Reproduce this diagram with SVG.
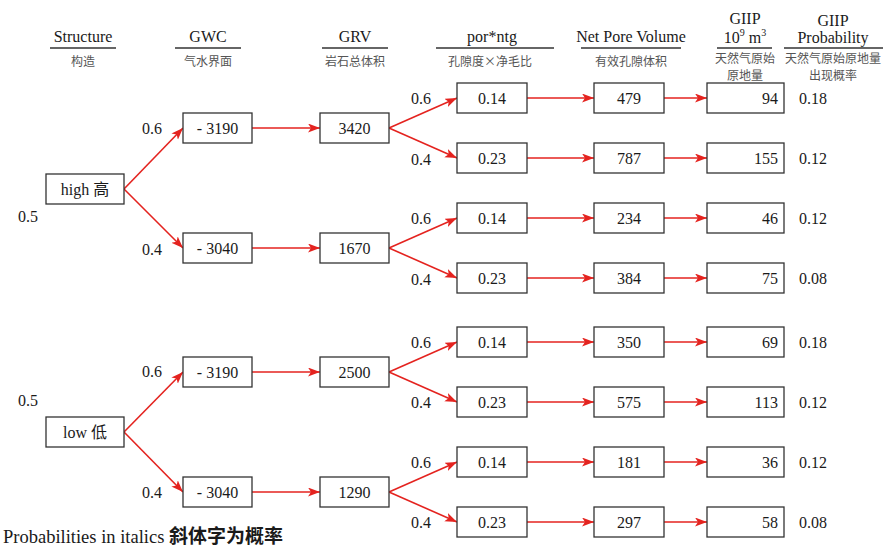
<svg xmlns="http://www.w3.org/2000/svg" width="884" height="548" viewBox="0 0 884 548">
<defs>
<marker id="ah" markerWidth="13" markerHeight="10" refX="12" refY="4.5" orient="auto" markerUnits="userSpaceOnUse">
<path d="M0,0 L12,4.5 L0,9 L3,4.5 z" fill="#e4231f"/>
</marker>
<style>
.bx{fill:#fff;stroke:#333;stroke-width:1.3}
.t{font-family:"Liberation Serif","Noto Sans CJK SC",serif;font-size:16px;fill:#1a1a1a}
.c{text-anchor:middle}
.r{text-anchor:end}
.h{font-family:"Liberation Serif","Noto Sans CJK SC",serif;font-size:16px;fill:#1a1a1a;text-anchor:middle}
.z{font-family:"Noto Sans CJK SC",sans-serif;font-size:12px;fill:#555;text-anchor:middle}
.ul{stroke:#333;stroke-width:1.3}
.ar{stroke:#e4231f;stroke-width:1.6;fill:none;marker-end:url(#ah)}
</style>
</defs>
<rect width="884" height="548" fill="#fff"/>

<g id="headers">
<text class="h" x="83" y="42">Structure</text>
<line class="ul" x1="50" y1="48" x2="116" y2="48"/>
<text class="z" x="83" y="66">构造</text>
<text class="h" x="208" y="42">GWC</text>
<line class="ul" x1="175" y1="48" x2="241" y2="48"/>
<text class="z" x="208" y="66">气水界面</text>
<text class="h" x="355" y="42">GRV</text>
<line class="ul" x1="322" y1="48" x2="388" y2="48"/>
<text class="z" x="355" y="66">岩石总体积</text>
<text class="h" x="492" y="42">por*ntg</text>
<line class="ul" x1="436" y1="48" x2="554" y2="48"/>
<text class="z" x="490" y="66">孔隙度×净毛比</text>
<text class="h" x="631" y="42">Net Pore Volume</text>
<line class="ul" x1="581" y1="48" x2="681" y2="48"/>
<text class="z" x="631" y="66">有效孔隙体积</text>
<text class="h" x="745" y="24">GIIP</text>
<text class="h" x="745" y="43">10<tspan font-size="10" dy="-7">9</tspan><tspan dy="7"> m</tspan><tspan font-size="10" dy="-7">3</tspan></text>
<line class="ul" x1="717" y1="48" x2="772" y2="48"/>
<text class="z" x="745" y="63">天然气原始</text>
<text class="z" x="745" y="80">原地量</text>
<text class="h" x="833" y="26">GIIP</text>
<text class="h" x="833" y="43">Probability</text>
<line class="ul" x1="784" y1="48" x2="883" y2="48"/>
<text class="z" x="833" y="63">天然气原始原地量</text>
<text class="z" x="833" y="80">出现概率</text>
</g>

<g id="connectors">
<line class="ar" x1="124" y1="189" x2="183" y2="128"/>
<line class="ar" x1="124" y1="189" x2="183" y2="248"/>
<line class="ar" x1="124" y1="432" x2="183" y2="372"/>
<line class="ar" x1="124" y1="432" x2="183" y2="492"/>
<line class="ar" x1="252" y1="128" x2="320" y2="128"/>
<line class="ar" x1="252" y1="248" x2="320" y2="248"/>
<line class="ar" x1="252" y1="372" x2="320" y2="372"/>
<line class="ar" x1="252" y1="492" x2="320" y2="492"/>
<line class="ar" x1="389" y1="128" x2="457" y2="98"/>
<line class="ar" x1="389" y1="128" x2="457" y2="158"/>
<line class="ar" x1="389" y1="248" x2="457" y2="218"/>
<line class="ar" x1="389" y1="248" x2="457" y2="278"/>
<line class="ar" x1="389" y1="372" x2="457" y2="342"/>
<line class="ar" x1="389" y1="372" x2="457" y2="402"/>
<line class="ar" x1="389" y1="492" x2="457" y2="462"/>
<line class="ar" x1="389" y1="492" x2="457" y2="522"/>
<line class="ar" x1="527" y1="98" x2="594" y2="98"/>
<line class="ar" x1="527" y1="158" x2="594" y2="158"/>
<line class="ar" x1="527" y1="218" x2="594" y2="218"/>
<line class="ar" x1="527" y1="278" x2="594" y2="278"/>
<line class="ar" x1="527" y1="342" x2="594" y2="342"/>
<line class="ar" x1="527" y1="402" x2="594" y2="402"/>
<line class="ar" x1="527" y1="462" x2="594" y2="462"/>
<line class="ar" x1="527" y1="522" x2="594" y2="522"/>
<line class="ar" x1="664" y1="98" x2="707" y2="98"/>
<line class="ar" x1="664" y1="158" x2="707" y2="158"/>
<line class="ar" x1="664" y1="218" x2="707" y2="218"/>
<line class="ar" x1="664" y1="278" x2="707" y2="278"/>
<line class="ar" x1="664" y1="342" x2="707" y2="342"/>
<line class="ar" x1="664" y1="402" x2="707" y2="402"/>
<line class="ar" x1="664" y1="462" x2="707" y2="462"/>
<line class="ar" x1="664" y1="522" x2="707" y2="522"/>
</g>

<g id="branch-labels" class="t">
<text x="18" y="222">0.5</text>
<text x="18" y="406">0.5</text>
<text x="142" y="134">0.6</text>
<text x="142" y="255">0.4</text>
<text x="142" y="377">0.6</text>
<text x="142" y="498">0.4</text>
<text x="411" y="104">0.6</text>
<text x="411" y="165">0.4</text>
<text x="411" y="224">0.6</text>
<text x="411" y="285">0.4</text>
<text x="411" y="348">0.6</text>
<text x="411" y="408">0.4</text>
<text x="411" y="468">0.6</text>
<text x="411" y="528">0.4</text>
</g>

<g id="n-high"><rect class="bx" x="46" y="174" width="78" height="30"/><text class="t c" x="85" y="195">high 高</text></g>
<g id="n-low"><rect class="bx" x="46" y="417" width="78" height="30"/><text class="t c" x="85" y="438">low 低</text></g>

<g id="n-gwc1"><rect class="bx" x="183" y="113" width="69" height="30"/><text class="t c" x="217.5" y="134">- 3190</text></g>
<g id="n-gwc2"><rect class="bx" x="183" y="233" width="69" height="30"/><text class="t c" x="217.5" y="254">- 3040</text></g>
<g id="n-gwc3"><rect class="bx" x="183" y="357" width="69" height="30"/><text class="t c" x="217.5" y="378">- 3190</text></g>
<g id="n-gwc4"><rect class="bx" x="183" y="477" width="69" height="30"/><text class="t c" x="217.5" y="498">- 3040</text></g>

<g id="n-grv1"><rect class="bx" x="320" y="113" width="69" height="30"/><text class="t c" x="354.5" y="134">3420</text></g>
<g id="n-grv2"><rect class="bx" x="320" y="233" width="69" height="30"/><text class="t c" x="354.5" y="254">1670</text></g>
<g id="n-grv3"><rect class="bx" x="320" y="357" width="69" height="30"/><text class="t c" x="354.5" y="378">2500</text></g>
<g id="n-grv4"><rect class="bx" x="320" y="477" width="69" height="30"/><text class="t c" x="354.5" y="498">1290</text></g>

<g id="n-por1"><rect class="bx" x="457" y="83" width="70" height="30"/><text class="t c" x="492" y="104">0.14</text></g>
<g id="n-por2"><rect class="bx" x="457" y="143" width="70" height="30"/><text class="t c" x="492" y="164">0.23</text></g>
<g id="n-por3"><rect class="bx" x="457" y="203" width="70" height="30"/><text class="t c" x="492" y="224">0.14</text></g>
<g id="n-por4"><rect class="bx" x="457" y="263" width="70" height="30"/><text class="t c" x="492" y="284">0.23</text></g>
<g id="n-por5"><rect class="bx" x="457" y="327" width="70" height="30"/><text class="t c" x="492" y="348">0.14</text></g>
<g id="n-por6"><rect class="bx" x="457" y="387" width="70" height="30"/><text class="t c" x="492" y="408">0.23</text></g>
<g id="n-por7"><rect class="bx" x="457" y="447" width="70" height="30"/><text class="t c" x="492" y="468">0.14</text></g>
<g id="n-por8"><rect class="bx" x="457" y="507" width="70" height="30"/><text class="t c" x="492" y="528">0.23</text></g>

<g id="n-npv1"><rect class="bx" x="594" y="83" width="70" height="30"/><text class="t c" x="629" y="104">479</text></g>
<g id="n-npv2"><rect class="bx" x="594" y="143" width="70" height="30"/><text class="t c" x="629" y="164">787</text></g>
<g id="n-npv3"><rect class="bx" x="594" y="203" width="70" height="30"/><text class="t c" x="629" y="224">234</text></g>
<g id="n-npv4"><rect class="bx" x="594" y="263" width="70" height="30"/><text class="t c" x="629" y="284">384</text></g>
<g id="n-npv5"><rect class="bx" x="594" y="327" width="70" height="30"/><text class="t c" x="629" y="348">350</text></g>
<g id="n-npv6"><rect class="bx" x="594" y="387" width="70" height="30"/><text class="t c" x="629" y="408">575</text></g>
<g id="n-npv7"><rect class="bx" x="594" y="447" width="70" height="30"/><text class="t c" x="629" y="468">181</text></g>
<g id="n-npv8"><rect class="bx" x="594" y="507" width="70" height="30"/><text class="t c" x="629" y="528">297</text></g>

<g id="n-giip1"><rect class="bx" x="707" y="83" width="77" height="30"/><text class="t r" x="778" y="104">94</text></g>
<g id="n-giip2"><rect class="bx" x="707" y="143" width="77" height="30"/><text class="t r" x="778" y="164">155</text></g>
<g id="n-giip3"><rect class="bx" x="707" y="203" width="77" height="30"/><text class="t r" x="778" y="224">46</text></g>
<g id="n-giip4"><rect class="bx" x="707" y="263" width="77" height="30"/><text class="t r" x="778" y="284">75</text></g>
<g id="n-giip5"><rect class="bx" x="707" y="327" width="77" height="30"/><text class="t r" x="778" y="348">69</text></g>
<g id="n-giip6"><rect class="bx" x="707" y="387" width="77" height="30"/><text class="t r" x="778" y="408">113</text></g>
<g id="n-giip7"><rect class="bx" x="707" y="447" width="77" height="30"/><text class="t r" x="778" y="468">36</text></g>
<g id="n-giip8"><rect class="bx" x="707" y="507" width="77" height="30"/><text class="t r" x="778" y="528">58</text></g>

<g id="probabilities" class="t">
<text x="799" y="104">0.18</text>
<text x="799" y="164">0.12</text>
<text x="799" y="224">0.12</text>
<text x="799" y="284">0.08</text>
<text x="799" y="348">0.18</text>
<text x="799" y="408">0.12</text>
<text x="799" y="468">0.12</text>
<text x="799" y="528">0.08</text>
</g>

<text class="t" x="3" y="543" font-size="18.5" style="font-size:18.5px">Probabilities in italics <tspan font-family="Noto Sans CJK SC, sans-serif" font-weight="bold" style="font-size:19px">斜体字为概率</tspan></text>
</svg>
